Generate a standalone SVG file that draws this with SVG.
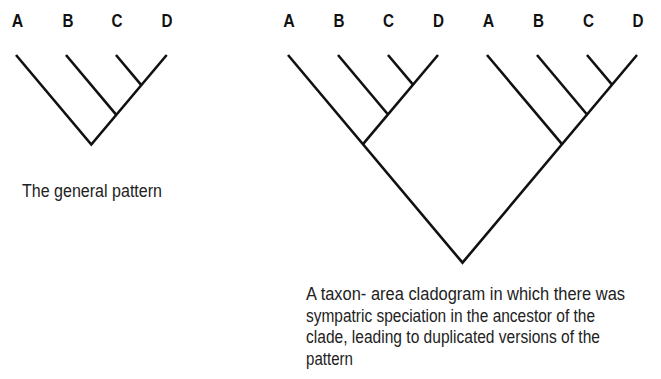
<svg xmlns="http://www.w3.org/2000/svg" width="661" height="379" viewBox="0 0 661 379">
<style>
.lbl{font-family:"Liberation Sans",Arial,sans-serif;font-weight:bold;font-size:17.5px;fill:#111;text-anchor:middle}
.txt{font-family:"Liberation Sans",Arial,sans-serif;font-size:17.5px;fill:#222}
.br{fill:none;stroke:#111;stroke-width:2.6;stroke-linejoin:miter;stroke-linecap:butt}
</style>
<rect width="661" height="379" fill="#fff"/>
<g id="tree-general">
<g id="labels-general">
<text class="lbl" x="17.5" y="27" textLength="11.5" lengthAdjust="spacingAndGlyphs">A</text>
<text class="lbl" x="68" y="27" textLength="11" lengthAdjust="spacingAndGlyphs">B</text>
<text class="lbl" x="117" y="27" textLength="11" lengthAdjust="spacingAndGlyphs">C</text>
<text class="lbl" x="167" y="27" textLength="11" lengthAdjust="spacingAndGlyphs">D</text>
</g>
</g>
<g id="tree-duplicated">
<g id="labels-duplicated">
<text class="lbl" x="289" y="27" textLength="11.5" lengthAdjust="spacingAndGlyphs">A</text>
<text class="lbl" x="339" y="27" textLength="11" lengthAdjust="spacingAndGlyphs">B</text>
<text class="lbl" x="388.5" y="27" textLength="11" lengthAdjust="spacingAndGlyphs">C</text>
<text class="lbl" x="438.5" y="27" textLength="11" lengthAdjust="spacingAndGlyphs">D</text>
<text class="lbl" x="488.5" y="27" textLength="11.5" lengthAdjust="spacingAndGlyphs">A</text>
<text class="lbl" x="538.5" y="27" textLength="11" lengthAdjust="spacingAndGlyphs">B</text>
<text class="lbl" x="588.5" y="27" textLength="11" lengthAdjust="spacingAndGlyphs">C</text>
<text class="lbl" x="638" y="27" textLength="11" lengthAdjust="spacingAndGlyphs">D</text>
</g>
</g>
<g id="connectors">
<polyline class="br" points="16,55 91.3,144.6 166.7,55"/>
<line class="br" x1="66" y1="55" x2="116.3" y2="114.9"/>
<line class="br" x1="116" y1="55" x2="141.3" y2="85.1"/>
<polyline class="br" points="288,55 462.5,262.7 637,55"/>
<line class="br" x1="438" y1="55" x2="363" y2="144.2"/>
<line class="br" x1="338" y1="55" x2="388" y2="114.5"/>
<line class="br" x1="388" y1="55" x2="413" y2="84.7"/>
<line class="br" x1="487" y1="55" x2="562" y2="144.2"/>
<line class="br" x1="537" y1="55" x2="587" y2="114.5"/>
<line class="br" x1="587" y1="55" x2="612" y2="84.7"/>
</g>
<g id="caption-general">
<text class="txt" x="22" y="196.5" textLength="140" lengthAdjust="spacingAndGlyphs">The general pattern</text>
</g>
<g id="caption-duplicated">
<text class="txt" x="306" y="300" textLength="319" lengthAdjust="spacingAndGlyphs">A taxon- area cladogram in which there was</text>
<text class="txt" x="306" y="321.7" textLength="289" lengthAdjust="spacingAndGlyphs">sympatric speciation in the ancestor of the</text>
<text class="txt" x="306" y="343.4" textLength="294" lengthAdjust="spacingAndGlyphs">clade, leading to duplicated versions of the</text>
<text class="txt" x="306" y="365" textLength="47" lengthAdjust="spacingAndGlyphs">pattern</text>
</g>
</svg>
